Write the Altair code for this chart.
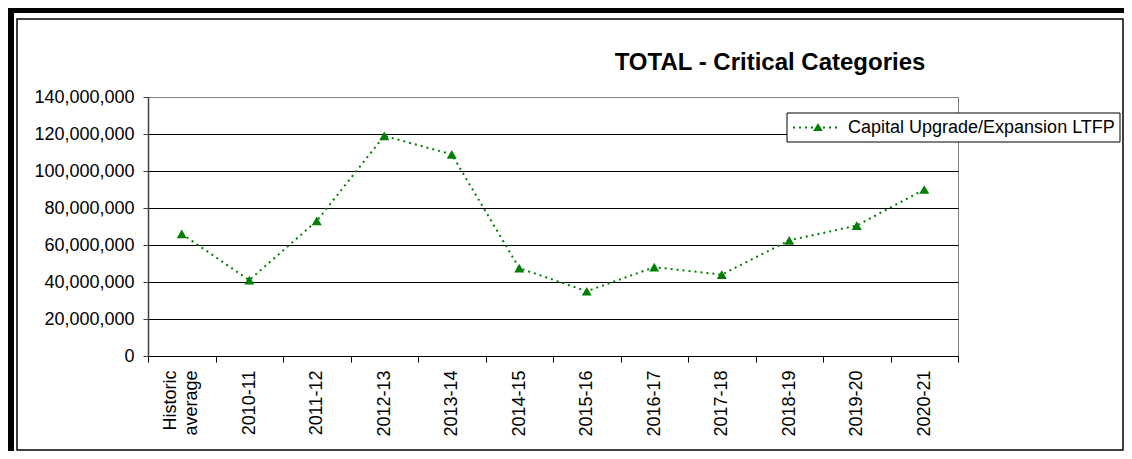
import altair as alt
import pandas as pd

categories = ["Historic average", "2010-11", "2011-12", "2012-13", "2013-14", "2014-15",
              "2015-16", "2016-17", "2017-18", "2018-19", "2019-20", "2020-21"]
values = [66000000, 41000000, 73000000, 119000000, 109000000, 47500000,
          35000000, 48000000, 44000000, 62500000, 70500000, 90000000]
y_ticks = [0, 20000000, 40000000, 60000000, 80000000, 100000000, 120000000, 140000000]
title_text = "TOTAL - Critical Categories"
series_name = "Capital Upgrade/Expansion LTFP"

FONT = "Liberation Sans"
GREEN = "#008000"

df = pd.DataFrame({"period": categories, "value": values})
one = pd.DataFrame({"a": [0]})

x_enc = alt.X(
    "period:N", sort=categories, bandPosition=0.5,
    scale=alt.Scale(type="band", paddingInner=0, paddingOuter=0),
    axis=alt.Axis(title=None, labelAngle=270, labelFontSize=18, labelFont=FONT,
                  labelColor="#000", tickBand="extent", tickSize=6, tickColor="#000",
                  domainColor="#000", labelPadding=8, labelLineHeight=21,
                  labelOffset=alt.condition(alt.datum.value == "Historic average", alt.value(-11), alt.value(0)),
                  labelExpr="datum.value == 'Historic average' ? ['Historic', 'average'] : datum.value"))
y_enc = alt.Y(
    "value:Q", scale=alt.Scale(domain=[0, 140000000], nice=False),
    axis=alt.Axis(title=None, values=y_ticks, format=",d", labelFontSize=18, labelFont=FONT,
                  labelColor="#000", tickSize=5, tickColor="#404040", labelPadding=9,
                  grid=True,
                  gridColor=alt.condition(alt.datum.value == 140000000, alt.value("#808080"), alt.value("#000000")),
                  domainColor="#404040", domainWidth=1.5))

base = alt.Chart(df).encode(x=x_enc, y=y_enc)
line = base.mark_line(color=GREEN, strokeDash=[2, 4], strokeWidth=2)
pts = base.mark_point(shape="triangle-up", filled=True, size=100, color=GREEN, opacity=1)

frame = alt.Chart(one).mark_rect(fill="transparent", stroke="#000", strokeWidth=1.5).encode(
    x=alt.value(-131), x2=alt.value(975), y=alt.value(-78), y2=alt.value(353))
top_bar = alt.Chart(one).mark_rect(color="#000").encode(
    x=alt.value(-140), x2=alt.value(976), y=alt.value(-89), y2=alt.value(-84))
left_bar = alt.Chart(one).mark_rect(color="#000").encode(
    x=alt.value(-140), x2=alt.value(-134), y=alt.value(-89), y2=alt.value(354))

title = alt.Chart(one).mark_text(font=FONT, fontSize=24, fontWeight="bold", align="center",
                                 baseline="middle", color="#000").encode(
    x=alt.value(622), y=alt.value(-34), text=alt.value(title_text))

leg_box = alt.Chart(one).mark_rect(fill="white", stroke="#000", strokeWidth=1).encode(
    x=alt.value(639), x2=alt.value(972), y=alt.value(16), y2=alt.value(45))
leg_line = alt.Chart(one).mark_rule(color=GREEN, strokeDash=[2, 4], strokeWidth=2).encode(
    x=alt.value(645), x2=alt.value(692), y=alt.value(30.5))
leg_pt = alt.Chart(one).mark_point(shape="triangle-up", filled=True, size=90, color=GREEN, opacity=1).encode(
    x=alt.value(670), y=alt.value(30))
leg_text = alt.Chart(one).mark_text(font=FONT, fontSize=18, align="left", baseline="middle", color="#000").encode(
    x=alt.value(700), y=alt.value(30.5), text=alt.value(series_name))

chart = alt.layer(line, pts, frame, top_bar, left_bar, title, leg_box, leg_line, leg_pt, leg_text).properties(
    width=810, height=259,
    autosize=alt.AutoSizeParams(type="none"),
    padding={"left": 140, "top": 89, "right": 166, "bottom": 95},
    background="white",
).configure_view(stroke="#808080", strokeWidth=1)

chart.save("out.html", embed_options={"renderer": "svg", "actions": False})
